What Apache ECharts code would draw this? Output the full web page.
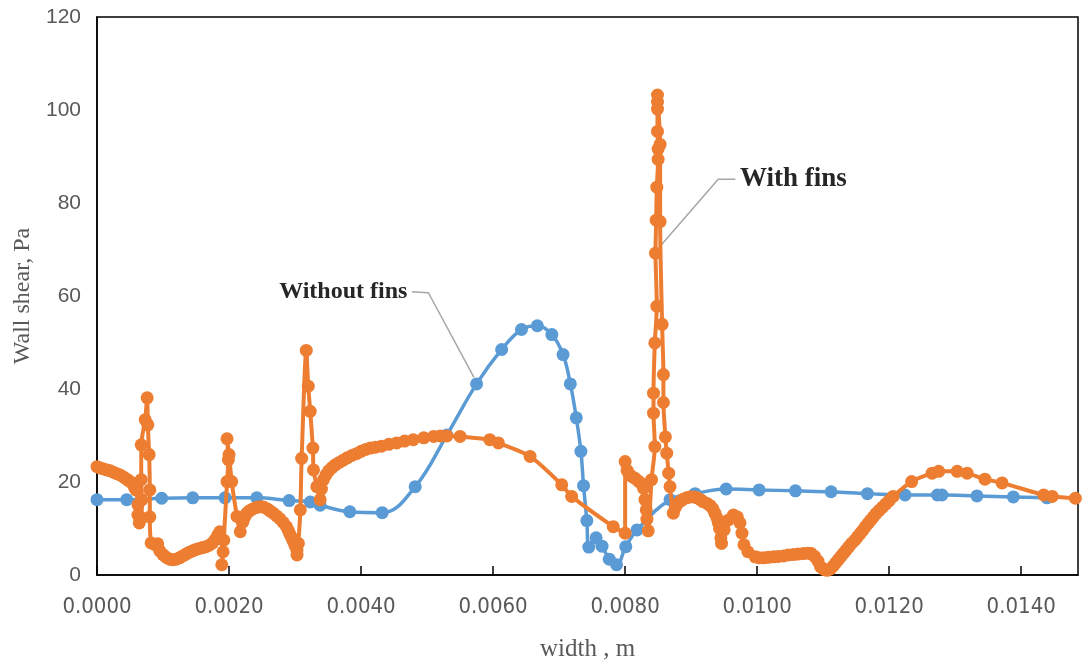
<!DOCTYPE html>
<html><head><meta charset="utf-8">
<script src="https://cdn.jsdelivr.net/npm/echarts@6/dist/echarts.min.js"></script>
<style>html,body{margin:0;padding:0;background:#fff}#c{width:1085px;height:660px}</style>
</head><body><div id="c"></div>
<script>
// ---- Data ----
const xTicks = [0, 0.002, 0.004, 0.006, 0.008, 0.010, 0.012, 0.014];
const yTicks = [0, 20, 40, 60, 80, 100, 120];

const withoutFinsX = [0, 0.00045, 0.00098, 0.00145, 0.00194, 0.00242, 0.00291, 0.00323, 0.00338, 0.00383, 0.00432, 0.00482, 0.0053, 0.00575, 0.00613, 0.00643, 0.00667, 0.00689, 0.00706, 0.00717, 0.00726, 0.00733, 0.00737, 0.00742, 0.00745, 0.00756, 0.00765, 0.00776, 0.00787, 0.00801, 0.00818, 0.00868, 0.00906, 0.00953, 0.01003, 0.01058, 0.01112, 0.01167, 0.01224, 0.01273, 0.0128, 0.01333, 0.01388, 0.01439];
const withoutFinsY = [16.2, 16.2, 16.5, 16.6, 16.6, 16.6, 16.0, 15.7, 15.0, 13.6, 13.4, 19.0, 30.1, 41.1, 48.5, 52.8, 53.6, 51.7, 47.4, 41.1, 33.8, 26.6, 19.2, 11.7, 6.0, 8.0, 6.2, 3.4, 2.2, 6.1, 9.7, 16.2, 17.5, 18.5, 18.3, 18.1, 17.9, 17.5, 17.2, 17.2, 17.2, 17.0, 16.8, 16.6];

const withFinsX = [
 0, 0.00005, 0.0001, 0.00015, 0.0002, 0.00025, 0.0003, 0.00035, 0.0004, 0.00044, 0.00048, 0.00052, 0.00055, 0.00057, 0.00059,
 0.00062, 0.00062, 0.00064, 0.00067, 0.00068, 0.00067, 0.00067, 0.00073, 0.00076, 0.00077, 0.00079, 0.0008, 0.0008, 0.00082, 0.00088, 0.00092,
 0.00095, 0.001, 0.00105, 0.0011, 0.00115, 0.0012, 0.00125, 0.0013, 0.00135, 0.0014, 0.00145, 0.0015, 0.00155, 0.0016, 0.00165, 0.0017, 0.00175, 0.00179, 0.00183, 0.00186,
 0.00191, 0.00189, 0.00192, 0.00197, 0.00199, 0.00197, 0.002, 0.00204,
 0.00212, 0.00217, 0.00221, 0.00224, 0.00227, 0.00231, 0.00236, 0.00241, 0.00247, 0.00252, 0.00258, 0.00262, 0.00267, 0.00272, 0.00277, 0.00282, 0.00287, 0.0029, 0.00292, 0.00295, 0.00297, 0.003, 0.00303, 0.00303,
 0.00305, 0.00308, 0.0031, 0.00317, 0.0032, 0.00323, 0.00327, 0.00328, 0.00333, 0.00338,
 0.0034, 0.00343, 0.00347, 0.00351, 0.00356, 0.00361, 0.00367, 0.00373, 0.00379, 0.00386, 0.00393, 0.004, 0.00407, 0.00414, 0.00422, 0.00431, 0.00442, 0.00454, 0.00466, 0.00479, 0.00495, 0.0051, 0.0052, 0.0053, 0.0055,
 0.00595, 0.00608, 0.00656, 0.00704, 0.00719, 0.00782, 0.008,
 0.008, 0.00803, 0.00806, 0.0081, 0.00815, 0.0082, 0.00825, 0.00828, 0.0083, 0.00832, 0.00833, 0.00835,
 0.0084, 0.00845, 0.00843, 0.00843, 0.00845, 0.00848, 0.00846, 0.00847, 0.00848, 0.0085, 0.0085, 0.00849, 0.00849, 0.00849, 0.00849,
 0.00853, 0.00853, 0.00856, 0.00858, 0.00858, 0.00861, 0.00863, 0.00866, 0.00868, 0.00873,
 0.00876, 0.00879, 0.00884, 0.00888, 0.00893, 0.00898, 0.00904, 0.00909, 0.00914, 0.00918, 0.00924, 0.00929, 0.00933, 0.00936, 0.00939, 0.00941, 0.00943, 0.00945, 0.00946,
 0.0095, 0.00956, 0.00964, 0.0097, 0.00974, 0.00977, 0.0098, 0.00986,
 0.00997, 0.01003, 0.0101, 0.01017, 0.01025, 0.01032, 0.0104, 0.01047, 0.01055, 0.01062, 0.0107, 0.01077, 0.01082, 0.01087, 0.01092, 0.01096, 0.01101, 0.01106, 0.01111,
 0.01115, 0.01119, 0.01123, 0.01127, 0.01131, 0.01135, 0.01139, 0.01143, 0.01148, 0.01152, 0.01156, 0.0116, 0.01164, 0.01168, 0.01172, 0.01176, 0.0118, 0.01185, 0.0119, 0.01195, 0.012, 0.01206,
 0.01234, 0.01265, 0.01275, 0.01303, 0.01318, 0.01345, 0.01371, 0.01434, 0.01447, 0.01482
];
const withFinsY = [
 23.3, 23.0, 22.8, 22.6, 22.4, 22.1, 21.8, 21.5, 21.1, 20.7, 20.3, 19.9, 19.4, 18.8, 18.3,
 15.1, 12.9, 11.2, 12.3, 16.2, 20.5, 28.0, 33.4, 38.1, 32.3, 25.9, 18.3, 12.5, 6.9, 6.5, 6.7,
 5.2, 4.4, 3.8, 3.4, 3.3, 3.4, 3.7, 4.1, 4.5, 4.9, 5.2, 5.5, 5.7, 5.9, 6.1, 6.4, 6.9, 7.6, 8.6, 9.3,
 5.0, 2.2, 7.5, 20.1, 24.8, 29.3, 25.9, 20.1,
 12.6, 9.3, 11.4, 12.5, 13.3, 13.8, 14.2, 14.5, 14.7, 14.6, 14.2, 13.8, 13.3, 12.7, 12.1, 11.3, 10.4, 9.5, 8.8, 8.0, 7.3, 6.3, 5.4, 4.3,
 6.8, 14.0, 25.1, 48.3, 40.6, 35.2, 27.3, 22.6, 19.0, 16.2,
 18.5, 20.5, 21.6, 22.4, 23.1, 23.7, 24.2, 24.7, 25.2, 25.7, 26.1, 26.6, 27.0, 27.3, 27.5, 27.7, 28.1, 28.4, 28.8, 29.1, 29.5, 29.8, 29.9, 29.9, 29.8,
 29.1, 28.4, 25.5, 19.4, 16.9, 10.4, 9.0,
 24.4, 22.5, 21.7, 21.2, 20.8, 20.2, 19.6, 18.6, 16.2, 14.0, 12.0, 9.5,
 20.5, 27.6, 34.8, 39.1, 49.9, 57.8, 69.2, 76.3, 83.4, 89.4, 91.6, 95.4, 100.2, 101.7, 103.2,
 92.6, 76.0, 53.9, 43.1, 37.1, 29.7, 26.2, 21.9, 19.0, 13.3,
 14.5, 15.3, 15.9, 16.3, 16.6, 16.8, 16.8, 16.6, 16.2, 15.8, 15.4, 14.9, 14.2, 13.3, 12.3, 11.3, 10.0, 8.0, 6.8,
 9.7, 11.8, 12.9, 12.5, 11.2, 9.0, 6.5, 5.0,
 3.9, 3.7, 3.7, 3.8, 3.9, 4.0, 4.1, 4.3, 4.4, 4.5, 4.6, 4.7, 4.6, 4.0, 3.0, 1.8, 1.2, 1.0, 1.3,
 1.9, 2.6, 3.3, 4.0, 4.7, 5.4, 6.1, 6.8, 7.5, 8.2, 8.9, 9.6, 10.4, 11.1, 11.8, 12.5, 13.2, 13.9, 14.6, 15.3, 16.0, 16.9,
 20.1, 21.9, 22.3, 22.3, 21.9, 20.6, 19.8, 17.2, 16.9, 16.5
];

// annotation leader lines (data space)
const withoutFinsLeaderX = [0.00477, 0.00502, 0.00571];
const withoutFinsLeaderY = [60.9, 60.7, 42.5];
const withFinsLeaderX = [0.00967, 0.00941, 0.00853];
const withFinsLeaderY = [85.1, 85.1, 70.7];

const zip = (xs, ys) => xs.map((x, i) => [x, ys[i]]);

const chart = echarts.init(document.getElementById('c'), null, {renderer: 'canvas'});
const annFont = {fontFamily: '"Liberation Serif", "DejaVu Serif", serif', fontWeight: 'bold', color: '#262626'};

function leader(xs, ys, text, pos, size) {
  return {
    type: 'line', data: zip(xs, ys), silent: true, z: 1,
    showSymbol: false, symbol: 'none',
    lineStyle: {color: '#a6a6a6', width: 1.5},
    animation: false,
    markPoint: {
      silent: true, symbol: 'circle', symbolSize: 1,
      itemStyle: {color: 'rgba(0,0,0,0)'},
      data: [{coord: [xs[0], ys[0]], value: text,
        label: Object.assign({show: true, position: pos, distance: 4, formatter: text, fontSize: size}, annFont)}]
    }
  };
}

chart.setOption({
  animation: false,
  backgroundColor: '#fff',
  grid: {left: 97, right: 7, top: 17, bottom: 85, outerBoundsMode: 'none', containLabel: false,
    show: true, borderColor: '#000', borderWidth: 1.5, backgroundColor: 'transparent'},
  xAxis: {
    type: 'value', min: xTicks[0], max: 0.01486, interval: 0.002,
    name: 'width , m', nameLocation: 'middle', nameGap: 62,
    nameTextStyle: {fontFamily: '"Liberation Serif", serif', fontSize: 25, color: '#595959'},
    axisLine: {show: true, onZero: false, lineStyle: {color: '#000', width: 1.5}},
    axisTick: {show: true, inside: true, length: 9, lineStyle: {color: '#000', width: 1.5}},
    splitLine: {show: false},
    axisLabel: {margin: 21, showMaxLabel: false, fontFamily: '"DejaVu Sans Condensed", "Liberation Sans Narrow", "Liberation Sans", sans-serif', fontSize: 22, color: '#595959',
      formatter: v => v.toFixed(4)}
  },
  yAxis: {
    type: 'value', min: yTicks[0], max: yTicks[yTicks.length - 1], interval: 20,
    name: 'Wall shear, Pa', nameLocation: 'middle', nameGap: 62,
    nameTextStyle: {fontFamily: '"Liberation Serif", serif', fontSize: 24, color: '#595959'},
    axisLine: {show: true, lineStyle: {color: '#000', width: 1.5}},
    axisTick: {show: false},
    splitLine: {show: false},
    axisLabel: {margin: 16, fontFamily: '"Liberation Sans", sans-serif', fontSize: 21, color: '#595959'}
  },
  series: [
    {
      name: 'Without fins', type: 'line', data: zip(withoutFinsX, withoutFinsY),
      smooth: 0.4, symbol: 'circle', symbolSize: 13, z: 3,
      itemStyle: {color: '#5B9BD5'}, lineStyle: {color: '#5B9BD5', width: 3.5}
    },
    {
      name: 'With fins', type: 'line', data: zip(withFinsX, withFinsY),
      smooth: 0.25, symbol: 'circle', symbolSize: 13, z: 4,
      itemStyle: {color: '#ED7D31'}, lineStyle: {color: '#ED7D31', width: 4}
    },
    leader(withoutFinsLeaderX, withoutFinsLeaderY, 'Without fins', 'left', 24),
    leader(withFinsLeaderX, withFinsLeaderY, 'With fins', 'right', 27)
  ]
});
</script>
</body></html>
